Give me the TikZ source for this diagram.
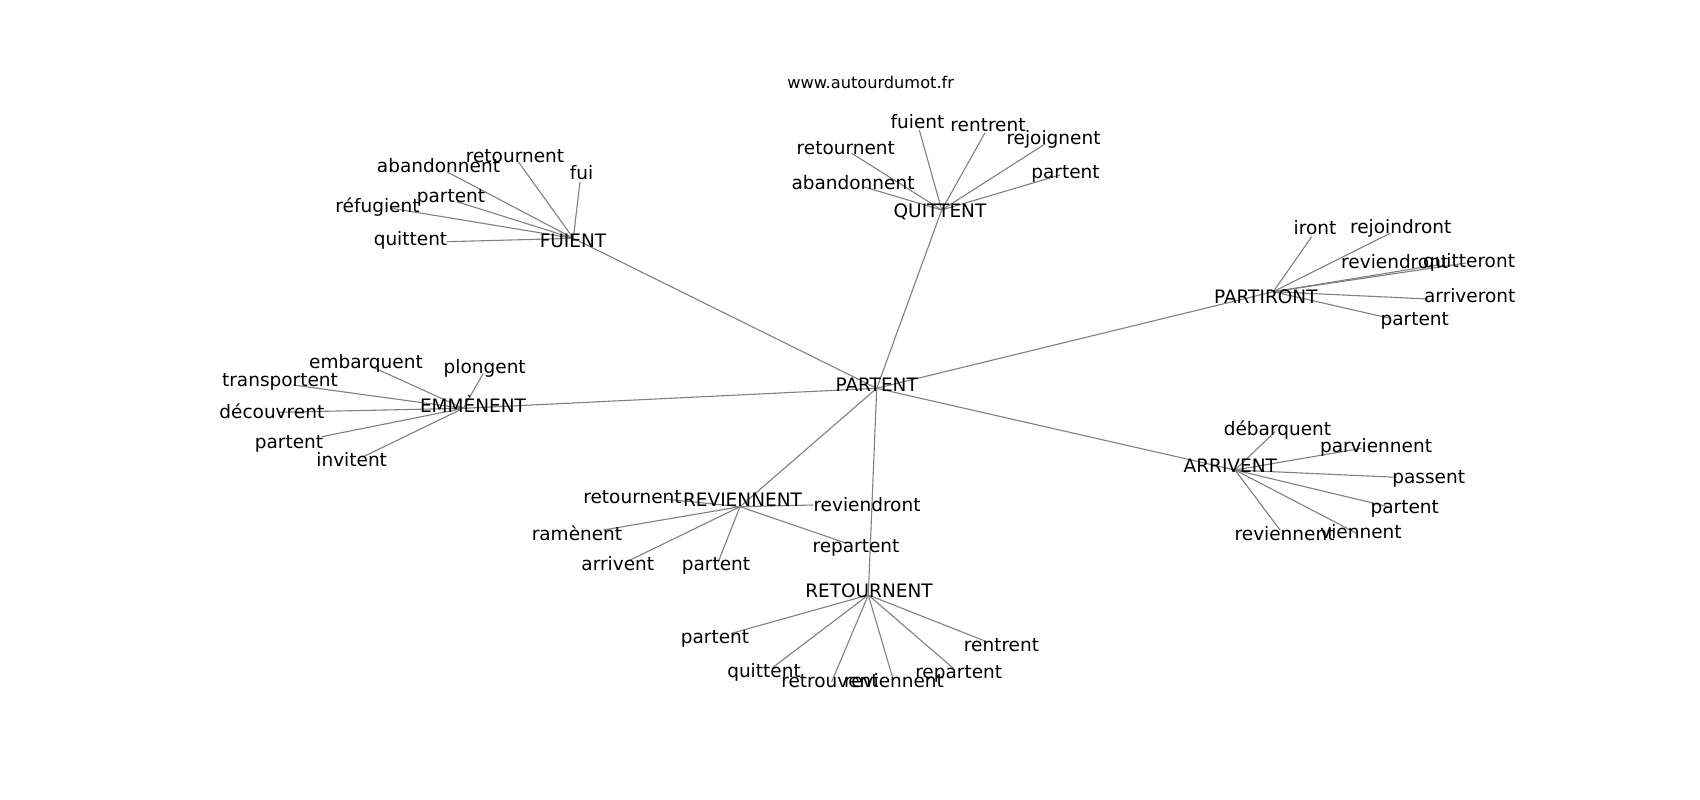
\documentclass[tikz,border=0pt]{standalone}
\usepackage{fontspec}
\setmainfont{DejaVu Sans}
\begin{document}
\begin{tikzpicture}[x=1pt,y=-1pt,
  edge/.style={draw=black!50, line width=1.1pt},
  lbl/.style={inner sep=0pt, anchor=center, text height=1.11em, text depth=0pt, font=\fontsize{18.5}{22}\selectfont},
  ttl/.style={inner sep=0pt, anchor=center, text height=1.11em, text depth=0pt, font=\fontsize{16.2}{19}\selectfont}]
\useasboundingbox[fill=white] (0,0) rectangle (1700,800);
% hubs
\coordinate (P) at (876.7,388.3);
\coordinate (FU) at (573.3,238.3);
\coordinate (QU) at (941.7,210);
\coordinate (PI) at (1273.3,291.7);
\coordinate (AR) at (1235,470);
\coordinate (RT) at (868.3,595);
\coordinate (RV) at (740,506.7);
\coordinate (EM) at (463.3,408.3);
% FUIENT children
\coordinate (fu1) at (580,181.7);
\coordinate (fu2) at (518.3,161.7);
\coordinate (fu3) at (446.7,171.7);
\coordinate (fu4) at (457,201.7);
\coordinate (fu5) at (390,208);
\coordinate (fu6) at (447,241.7);
% QUITTENT children
\coordinate (qu1) at (919.3,130);
\coordinate (qu2) at (985,132.7);
\coordinate (qu3) at (851.7,153.3);
\coordinate (qu4) at (863.3,186.7);
\coordinate (qu5) at (1045,144);
\coordinate (qu6) at (1060,175);
% PARTIRONT children
\coordinate (pi1) at (1311.7,236.7);
\coordinate (pi2) at (1390,233.3);
\coordinate (pi3) at (1437,265);
\coordinate (pi4) at (1466,263);
\coordinate (pi5) at (1428,299);
\coordinate (pi6) at (1390,318.3);
% EMMENENT children
\coordinate (em1) at (371.7,366.7);
\coordinate (em2) at (483.3,373.3);
\coordinate (em3) at (293.3,385);
\coordinate (em4) at (278.3,412.3);
\coordinate (em5) at (321.7,436.7);
\coordinate (em6) at (363.3,456.7);
% ARRIVENT children
\coordinate (ar1) at (1275,431.7);
\coordinate (ar2) at (1361.7,448.3);
\coordinate (ar3) at (1396.7,477.3);
\coordinate (ar4) at (1388.3,506.7);
\coordinate (ar5) at (1280,530);
\coordinate (ar6) at (1356.7,533.3);
% REVIENNENT children
\coordinate (rv1) at (666.7,499.3);
\coordinate (rv2) at (813.3,505);
\coordinate (rv3) at (603.3,530);
\coordinate (rv4) at (846.7,543.3);
\coordinate (rv5) at (626.7,561.7);
\coordinate (rv6) at (718.3,561.7);
% RETOURNENT children
\coordinate (rt1) at (731.7,633.3);
\coordinate (rt2) at (771.7,668.3);
\coordinate (rt3) at (831.7,681.7);
\coordinate (rt4) at (893.3,680);
\coordinate (rt5) at (953.3,668.3);
\coordinate (rt6) at (986.7,641.7);
% edges
\foreach \h in {FU,QU,PI,AR,RT,RV,EM} \draw[edge] (P) -- (\h);
\foreach \i in {1,...,6} {
  \draw[edge] (FU) -- (fu\i);
  \draw[edge] (QU) -- (qu\i);
  \draw[edge] (PI) -- (pi\i);
  \draw[edge] (EM) -- (em\i);
  \draw[edge] (AR) -- (ar\i);
  \draw[edge] (RV) -- (rv\i);
  \draw[edge] (RT) -- (rt\i);
}
% labels
\node[ttl] (title) at (870.7,82.7) {www.autourdumot.fr};
\node[lbl] (Pt) at (876.7,386.3) {PARTENT};
\node[lbl] (FUt) at (573,241.7) {FUIENT};
\node[lbl] (QUt) at (940,211.7) {QUITTENT};
\node[lbl] (PIt) at (1265.8,297.7) {PARTIRONT};
\node[lbl] (ARt) at (1230.3,466.7) {ARRIVENT};
\node[lbl] (RTt) at (869,591.7) {RETOURNENT};
\node[lbl] (RVt) at (742.5,501) {REVIENNENT};
\node[lbl] (EMt) at (473,406.7) {EMMÈNENT};
\node[lbl] (fu1t) at (581.6,173.6) {fui};
\node[lbl] (fu2t) at (515,156.7) {retournent};
\node[lbl] (fu3t) at (438.5,166.7) {abandonnent};
\node[lbl] (fu4t) at (451,197.3) {partent};
\node[lbl] (fu5t) at (377.5,206.7) {réfugient};
\node[lbl] (fu6t) at (410.5,240) {quittent};
\node[lbl] (qu1t) at (917.5,123.3) {fuient};
\node[lbl] (qu2t) at (988,125.7) {rentrent};
\node[lbl] (qu3t) at (845.8,149.3) {retournent};
\node[lbl] (qu4t) at (853,184) {abandonnent};
\node[lbl] (qu5t) at (1053.5,138.9) {rejoignent};
\node[lbl] (qu6t) at (1065.5,172.5) {partent};
\node[lbl] (pi1t) at (1315,229) {iront};
\node[lbl] (pi2t) at (1400.7,227.8) {rejoindront};
\node[lbl] (pi3t) at (1394.7,262.7) {reviendront};
\node[lbl] (pi4t) at (1469,261.7) {quitteront};
\node[lbl] (pi5t) at (1469.7,297.3) {arriveront};
\node[lbl] (pi6t) at (1414.7,320) {partent};
\node[lbl] (em1t) at (366,363.3) {embarquent};
\node[lbl] (em2t) at (484.7,368.3) {plongent};
\node[lbl] (em3t) at (280,381) {transportent};
\node[lbl] (em4t) at (271.8,413.3) {découvrent};
\node[lbl] (em5t) at (289,443.3) {partent};
\node[lbl] (em6t) at (351.7,460.7) {invitent};
\node[lbl] (ar1t) at (1277.5,430) {débarquent};
\node[lbl] (ar2t) at (1376,446.7) {parviennent};
\node[lbl] (ar3t) at (1428.7,478.3) {passent};
\node[lbl] (ar4t) at (1404.7,508.3) {partent};
\node[lbl] (ar5t) at (1284.6,535) {reviennent};
\node[lbl] (ar6t) at (1361,533.3) {viennent};
\node[lbl] (rv1t) at (632.5,498.3) {retournent};
\node[lbl] (rv2t) at (867,505.6) {reviendront};
\node[lbl] (rv3t) at (577,535) {ramènent};
\node[lbl] (rv4t) at (856,546.8) {repartent};
\node[lbl] (rv5t) at (617.8,565) {arrivent};
\node[lbl] (rv6t) at (716,565) {partent};
\node[lbl] (rt1t) at (715,638.3) {partent};
\node[lbl] (rt2t) at (764,671.7) {quittent};
\node[lbl] (rt3t) at (830,681.7) {retrouvent};
\node[lbl] (rt4t) at (894,681.7) {reviennent};
\node[lbl] (rt5t) at (958.7,672.7) {repartent};
\node[lbl] (rt6t) at (1001.5,646) {rentrent};
\end{tikzpicture}
\end{document}
